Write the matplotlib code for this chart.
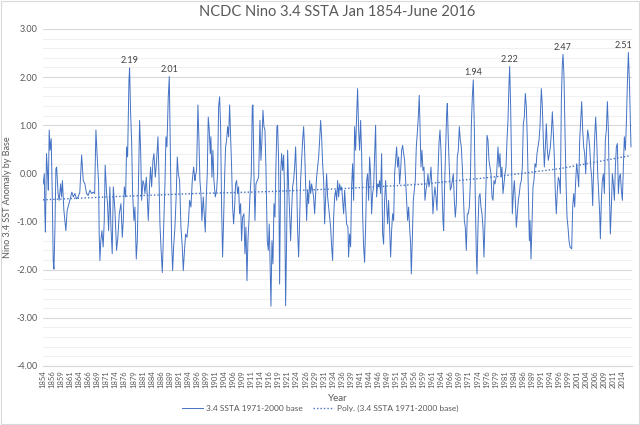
import numpy as np
import matplotlib
matplotlib.use("Agg")
import matplotlib.pyplot as plt
from matplotlib.patches import Rectangle
from matplotlib.ticker import MultipleLocator

plt.rcParams["font.family"] = ["Lato", "DejaVu Sans"]

# Nino 3.4 SSTA (1971-2000 base), turning points
years = [
    1854.1, 1854.4, 1854.55, 1854.7, 1855.0, 1855.3, 1855.5, 1855.75, 1856.0, 1856.3, 1856.6, 1856.85,
    1857.05, 1857.3, 1857.6, 1857.8, 1858.2, 1858.5, 1858.9, 1859.15, 1859.4, 1859.8, 1860.35, 1860.7,
    1861.45, 1862.0, 1862.4, 1862.85, 1863.3, 1863.75, 1864.2, 1864.7, 1865.15, 1865.6, 1866.05, 1866.5,
    1867.0, 1867.45, 1867.9, 1868.3, 1868.65, 1869.0, 1869.4, 1869.55, 1869.75, 1870.0, 1870.3, 1870.65,
    1870.95, 1871.2, 1871.6, 1871.85, 1872.15, 1872.5, 1872.8, 1873.15, 1873.45, 1873.9, 1874.35, 1874.7,
    1875.1,
    1875.56, 1875.93, 1876.2, 1876.48, 1876.85, 1877.12, 1877.4, 1877.77, 1877.95, 1878.23, 1878.5, 1878.78,
    1879.15, 1879.42, 1879.79, 1880.07, 1880.35, 1880.71, 1881.0, 1881.27, 1881.63, 1881.91, 1882.19, 1882.56,
    1882.83, 1883.11, 1883.48, 1883.75, 1884.03, 1884.4, 1884.67, 1885.04, 1885.41, 1885.78, 1886.05, 1886.33,
    1886.61, 1886.98, 1887.34, 1887.71, 1887.99, 1888.26, 1888.63, 1888.91, 1889.19, 1889.55, 1889.83, 1890.11,
    1890.47, 1890.84, 1891.12, 1891.4, 1891.76, 1892.13, 1892.5, 1892.78, 1893.05, 1893.42, 1893.79, 1894.16,
    1894.53, 1894.89, 1895.26, 1895.63, 1896.0,
    1896.08, 1896.45, 1896.82, 1897.1, 1897.37, 1897.65, 1897.92, 1898.29, 1898.57, 1898.85, 1899.12, 1899.4,
    1899.67, 1899.95, 1900.23, 1900.41, 1900.69, 1900.96, 1901.24, 1901.61, 1901.98, 1902.25, 1902.53, 1902.81,
    1903.08, 1903.36, 1903.63, 1903.91, 1904.19, 1904.46, 1904.74, 1905.02, 1905.29, 1905.57, 1905.84, 1906.12,
    1906.4, 1906.67, 1906.95, 1907.23, 1907.5, 1907.78, 1908.05, 1908.33, 1908.61, 1908.88, 1909.16, 1909.53,
    1909.8, 1910.08, 1910.36, 1910.63, 1910.91, 1911.18, 1911.55, 1911.83, 1912.01, 1912.29, 1912.57, 1912.84,
    1913.21, 1913.58, 1913.95, 1914.22, 1914.5, 1914.78, 1915.05, 1915.33, 1915.6, 1915.97, 1916.25, 1916.52,
    1916.99, 1917.26, 1917.54, 1917.82, 1918.09, 1918.37, 1918.64, 1918.83, 1919.1, 1919.38, 1919.66, 1919.93,
    1920.21, 1920.49, 1920.76, 1921.04, 1921.31, 1921.59, 1921.87, 1922.14, 1922.42, 1922.7, 1922.97, 1923.25,
    1923.53, 1923.8, 1924.08, 1924.35, 1924.63, 1924.91, 1925.18, 1925.46, 1925.74, 1926.01, 1926.29, 1926.56,
    1926.84, 1927.12, 1927.39, 1927.67, 1927.95, 1928.22, 1928.5, 1928.77, 1929.05, 1929.33, 1929.6, 1929.88,
    1930.16, 1930.43, 1930.71, 1930.98, 1931.26, 1931.54, 1931.81, 1932.09, 1932.36, 1932.64, 1932.92, 1933.19,
    1933.47, 1933.75, 1934.02, 1934.3, 1934.57, 1934.85, 1935.13, 1935.4, 1935.68, 1935.96, 1936.23, 1936.51,
    1936.79, 1937.06, 1937.34,
    1937.88, 1938.25, 1938.43, 1938.71, 1938.99, 1939.26, 1939.54, 1939.82, 1940.09, 1940.37, 1940.64, 1940.92,
    1941.2, 1941.47, 1941.75, 1942.03, 1942.3, 1942.58, 1942.85, 1943.13, 1943.41, 1943.68, 1943.96, 1944.23,
    1944.51, 1944.79, 1945.06, 1945.34, 1945.62, 1945.89, 1946.17, 1946.45, 1946.72, 1947.0, 1947.27, 1947.55,
    1947.83, 1948.1, 1948.38, 1948.66, 1948.93, 1949.21, 1949.48, 1949.76, 1950.04, 1950.31, 1950.59, 1950.87,
    1951.14, 1951.42, 1951.69, 1951.97, 1952.25, 1952.52, 1952.8, 1953.08, 1953.35, 1953.63, 1953.9, 1954.18,
    1954.46, 1954.73, 1955.01, 1955.28, 1955.56, 1955.75, 1956.02, 1956.3, 1956.57, 1956.85, 1957.13, 1957.4,
    1957.68, 1957.95,
    1958.42, 1958.69, 1958.97, 1959.25, 1959.52, 1959.8, 1960.07, 1960.35, 1960.63, 1960.9, 1961.18, 1961.46,
    1961.73, 1962.01, 1962.28, 1962.56, 1962.84, 1963.11, 1963.39, 1963.67, 1963.94, 1964.22, 1964.49, 1964.68,
    1964.96, 1965.23, 1965.51, 1965.69, 1965.97, 1966.24, 1966.52, 1966.8, 1967.07, 1967.35, 1967.63, 1967.9,
    1968.18, 1968.45, 1968.73, 1969.01, 1969.28, 1969.56, 1969.84, 1970.11, 1970.39, 1970.66, 1970.94, 1971.22,
    1971.49, 1971.77, 1972.05, 1972.32, 1972.6, 1972.87, 1973.15, 1973.43, 1973.7, 1973.89, 1974.16, 1974.44,
    1974.72, 1974.99, 1975.27, 1975.54, 1975.82, 1976.1, 1976.37, 1976.65, 1976.93, 1977.2, 1977.48, 1977.75,
    1978.03, 1978.31, 1978.58, 1978.86,
    1979.32, 1979.69, 1979.97, 1980.24, 1980.52, 1980.79, 1981.07, 1981.35, 1981.62, 1981.9, 1982.18, 1982.45,
    1982.73, 1982.91, 1983.19, 1983.47, 1983.65, 1983.93, 1984.2, 1984.48, 1984.75, 1985.03, 1985.31, 1985.58,
    1985.86, 1986.14, 1986.41, 1986.69, 1986.96, 1987.24, 1987.52, 1987.79, 1988.07, 1988.35, 1988.53, 1988.81,
    1989.08, 1989.36, 1989.63, 1989.91, 1990.19, 1990.46, 1990.74, 1991.02, 1991.29, 1991.66, 1991.94, 1992.21,
    1992.49, 1992.77, 1993.04, 1993.32, 1993.59, 1993.87, 1994.15, 1994.42, 1994.7, 1994.98, 1995.25, 1995.53,
    1995.8, 1996.08, 1996.36, 1996.63, 1996.91, 1997.19, 1997.46, 1997.65, 1997.92, 1998.2, 1998.47, 1998.75,
    1999.03, 1999.3, 1999.58,
    2000.04, 2000.32, 2000.6, 2000.87, 2001.15, 2001.42, 2001.7, 2001.98, 2002.25, 2002.53, 2002.81, 2003.08,
    2003.36, 2003.63, 2003.91, 2004.19, 2004.46, 2004.74, 2005.02, 2005.29, 2005.57, 2005.84, 2006.12, 2006.4,
    2006.67, 2006.95, 2007.23, 2007.5, 2007.78, 2007.96, 2008.24, 2008.51, 2008.79, 2009.07, 2009.34, 2009.62,
    2009.9, 2010.17, 2010.45, 2010.72, 2011.0, 2011.28, 2011.55, 2011.83, 2012.11, 2012.38, 2012.66, 2012.93,
    2013.21, 2013.49, 2013.76, 2014.04, 2014.31, 2014.59, 2014.87, 2015.14, 2015.42, 2015.7, 2015.97, 2016.42,
]

ssta = [
    -0.22, -0.01, -0.84, -1.22, 0.41, -0.01, -0.35, 0.90, 0.48, 0.72, -0.49, -1.81,
    -1.99, -1.26, 0.10, 0.13, -0.42, -0.56, -0.22, -0.49, -0.15, -0.77, -1.19, -0.77,
    -0.56, -0.39, -0.49, -0.42, -0.53, -0.49, -0.39, 0.38, -0.15, -0.22, -0.42, -0.46,
    -0.35, -0.42, -0.39, -0.42, 0.90, 0.34, -0.22, -1.26, -1.81, -1.40, -1.19, -1.53,
    -0.98, 0.17, -0.42, -0.63, -1.19, -0.28, -1.12, -1.67, -0.28, -0.77, -1.60, -1.33,
    -0.84,
    -0.63, -1.33, -0.98, -0.28, -0.49, 0.55, 0.34, 1.94, 2.19, 1.24, 0.69, -0.42,
    -0.98, -0.70, -1.78, -1.40, -0.42, 1.10, 0.48, -0.56, -0.15, -0.22, -0.42, -0.08,
    -0.49, -0.98, -0.22, 0.13, -0.28, 0.27, 0.41, -0.08, 0.27, 0.76, -0.01, -1.05,
    -1.53, -2.06, -1.12, -0.22, 0.76, 0.55, 1.59, 2.01, 0.55, -1.40, -2.02, -1.53,
    -1.12, -0.42, 0.34, -0.01, -0.15, -1.12, -1.53, -2.02, -1.67, -1.26, -1.33, -1.05,
    -0.56, -0.70, -0.15, 0.13, -0.15,
    -0.08, 0.06, 1.42, 0.69, -0.15, -0.42, -0.98, -0.49, -0.84, -1.22, -0.49, -0.01,
    1.17, 0.90, 0.41, 0.76, -0.08, 0.48, -0.15, -0.49, -0.35, -0.01, 1.38, 1.59,
    0.97, -0.70, -1.74, -0.98, -0.08, 0.55, 0.69, 0.97, 0.76, 1.42, 0.76, 0.13,
    -0.70, -1.05, -0.70, -0.22, -0.15, -0.42, -0.28, -0.84, -0.63, -1.40, -0.91, -0.84,
    -1.67, -1.12, -2.23, -1.40, -0.98, -0.49, -0.01, 1.38, 1.42, -0.01, -0.98, -0.22,
    -0.15, -0.08, 1.10, 0.27, 0.69, 1.31, 0.97, 0.90, 0.13, -1.40, -1.60, -1.05,
    -2.76, -1.40, -1.88, -0.63, -0.91, 0.20, 0.97, 1.00, 0.27, -2.30, -0.01, 0.41,
    0.06, 0.38, -0.42, -2.75, -1.40, 0.48, -0.28, -0.84, -1.40, -0.77, -0.28, -0.15,
    0.13, 0.55, -0.15, -1.19, -1.74, -0.98, -0.15, 0.27, 0.69, 0.97, 0.48, -0.22,
    -0.98, -0.35, -0.63, -0.15, -0.42, -0.22, -0.35, -0.49, -0.84, -0.42, -0.08, 0.13,
    0.34, 0.69, 1.10, 0.76, 0.20, -0.15, -1.05, -0.49, -0.01, -0.49, -0.70, -0.91,
    -1.12, -1.53, -1.81, -0.91, -0.49, -0.35, -0.56, -0.15, -0.49, -0.22, -0.35, -0.28,
    -0.56, -0.84, -0.35,
    -1.05, -1.12, -1.74, -1.26, -1.53, -0.28, 0.20, -0.56, 0.97, 0.48, 1.17, 1.76,
    0.90, 0.48, 1.10, 0.41, -0.84, -1.53, -1.85, -1.12, -0.15, -0.01, -0.56, 0.34,
    -0.01, -0.84, -0.42, -0.28, 0.34, 1.00, -0.49, -0.22, -0.28, -0.15, -0.42, 0.41,
    -1.26, -1.47, -0.56, -0.15, -0.63, -1.05, -0.56, -1.12, -1.74, -1.19, -0.84, -0.98,
    -0.01, 0.27, 0.55, 0.13, 0.34, -0.22, 0.06, 0.48, 0.58, 0.41, 0.27, -0.15,
    -0.56, -0.98, -0.70, -1.12, -1.47, -2.09, -1.40, -0.56, -0.35, -0.15, 0.55, 0.83,
    1.17, 1.62,
    0.13, 0.48, 0.06, 0.13, -0.56, -0.35, -0.22, -0.01, -0.28, -0.15, 0.13, -0.28,
    -0.84, -0.49, -0.28, -0.49, -0.77, -0.01, 0.62, 0.90, 0.48, -0.28, -0.98, -1.19,
    -0.22, 0.48, 1.24, 1.45, 0.69, 0.13, -0.35, -0.28, -0.15, -0.01, -0.56, -0.91,
    -0.63, 0.34, 0.48, 0.97, 0.69, 0.55, 0.13, -0.42, -0.98, -1.12, -1.60, -0.84,
    -0.84, -0.70, -0.22, 0.97, 1.59, 1.94, 0.97, -0.56, -1.67, -2.09, -1.12, -0.49,
    -0.42, -0.70, -0.84, -1.12, -1.74, -0.98, -0.28, 0.79, 0.69, 0.27, 0.13, -0.01,
    -0.49, -0.56, -0.15, -0.22,
    -0.01, 0.55, 0.13, 0.41, -0.08, 0.13, -0.42, -0.22, -0.01, 0.13, 0.69, 1.10,
    1.87, 2.22, 1.38, -0.01, -0.84, -0.42, -0.15, -0.56, -1.12, -0.84, -0.56, -0.42,
    -0.22, -0.15, 0.13, 1.03, 1.17, 1.66, 1.38, 0.69, -0.35, -1.40, -0.98, -1.78,
    -1.05, -0.28, -0.15, 0.20, 0.13, 0.41, 0.55, 0.69, 0.97, 1.76, 1.38, 0.69,
    0.13, 0.55, 1.03, 0.48, 0.27, 0.41, 0.55, 0.83, 1.28, 0.83, 0.34, -0.42,
    -0.84, -0.35, -0.08, -0.15, -0.42, 1.52, 2.28, 2.47, 2.01, 0.83, -0.15, -0.91,
    -1.12, -1.40, -1.53,
    -1.57, -0.70, -0.42, -0.70, -0.15, 0.20, -0.01, -0.28, 0.69, 1.10, 1.49, 0.90,
    0.55, 0.41, -0.01, 0.55, 0.90, 0.76, 0.55, 0.13, -0.08, -0.67, 0.13, 0.76,
    1.17, 0.69, -0.01, -0.42, -0.84, -1.36, -0.56, -0.15, -0.01, -0.42, 0.69, 0.90,
    1.49, 0.90, -0.35, -1.26, -0.70, -0.01, -0.22, -0.56, 0.13, 0.55, 0.62, -0.42,
    -0.08, -0.01, -0.35, -0.56, 0.13, 0.76, 0.48, 1.03, 1.87, 2.51, 1.94, 0.55,
]

# dotted polynomial trendline
trend_years = [1854.0, 1875.0, 1896.0, 1916.0, 1936.0, 1958.0, 1978.0, 1997.0, 2016.42]
trend_vals = [-0.55, -0.48, -0.42, -0.38, -0.32, -0.23, -0.08, 0.10, 0.37]

# peaks with data labels
peak_years = [1877.95, 1888.91, 1972.87, 1982.91, 1997.65, 2015.7]

# category axis labels (every 30th month)
tick_years = [1854 + 2.5 * k for k in range(65)]
tick_labels = [
    "1854", "1856", "1859", "1861", "1864", "1866", "1869", "1871", "1874", "1876",
    "1879", "1881", "1884", "1886", "1889", "1891", "1894", "1896", "1899", "1901",
    "1904", "1906", "1909", "1911", "1914", "1916", "1919", "1921", "1924", "1926",
    "1929", "1931", "1934", "1936", "1939", "1941", "1944", "1946", "1949", "1951",
    "1954", "1956", "1959", "1961", "1964", "1966", "1969", "1971", "1974", "1976",
    "1979", "1981", "1984", "1986", "1989", "1991", "1994", "1996", "1999", "2001",
    "2004", "2006", "2009", "2011", "2014",
]

text_col = "#595959"
line_col = "#4472C4"

fig = plt.figure(figsize=(6.4, 4.25), dpi=100)
ax = fig.add_axes([0.067, 0.139, 0.9205, 0.793])

ax.plot(years, ssta, color=line_col, linewidth=0.7, label="3.4 SSTA 1971-2000 base")
ax.plot(trend_years, trend_vals, color=line_col, linewidth=1.0, linestyle=(0, (1, 1.5)),
        label="Poly. (3.4 SSTA 1971-2000 base)")

lookup = dict(zip(years, ssta))
for py in peak_years:
    v = lookup[py]
    ha = "right" if py > 2010 else "center"
    dx = 3 if py > 2010 else 0
    ax.annotate(f"{v:.2f}", (py, v), xytext=(dx, 2), textcoords="offset points",
                ha=ha, va="bottom", fontsize=6.5, color="#404040")

ax.set_xlim(1854.0, 2016.7)
ax.set_ylim(-4, 3)
ax.yaxis.set_minor_locator(MultipleLocator(0.2))
ax.set_yticks(np.arange(-4, 3.01, 1))
ax.set_yticklabels([f"{t:.2f}" for t in np.arange(-4, 3.01, 1)])
ax.grid(which="major", axis="y", color="#d9d9d9", linewidth=0.8)
ax.grid(which="minor", axis="y", color="#f0f0f0", linewidth=0.8)
ax.set_axisbelow(True)

ax.set_xticks(tick_years)
ax.set_xticklabels(tick_labels, rotation=90, fontsize=5.5, color=text_col)
ax.tick_params(axis="both", which="both", length=0, colors=text_col)
ax.tick_params(axis="y", labelsize=6.5, pad=4)
ax.tick_params(axis="x", pad=3)

for s in ["top", "right", "left"]:
    ax.spines[s].set_visible(False)
ax.spines["bottom"].set_color("#d9d9d9")

ax.set_xlabel("Year", fontsize=7, color=text_col, labelpad=4)
ax.set_ylabel("Nino 3.4 SST Anomaly by Base", fontsize=6.5, color=text_col)
ax.yaxis.set_label_coords(-0.052, 0.5)
ax.set_title("NCDC Nino 3.4 SSTA Jan 1854-June 2016", fontsize=10.5, color=text_col, pad=9)

leg = fig.legend(loc="lower center", bbox_to_anchor=(0.5, 0.012), ncol=2, frameon=False,
                 fontsize=6, handlelength=2.6, handletextpad=0.3, columnspacing=1.2)
for t in leg.get_texts():
    t.set_color(text_col)

fig.patches.append(Rectangle((0.002, 0.002), 0.996, 0.995, transform=fig.transFigure,
                             fill=False, edgecolor="#d9d9d9", linewidth=0.8))

fig.savefig("out.png", dpi=100, facecolor="white")
